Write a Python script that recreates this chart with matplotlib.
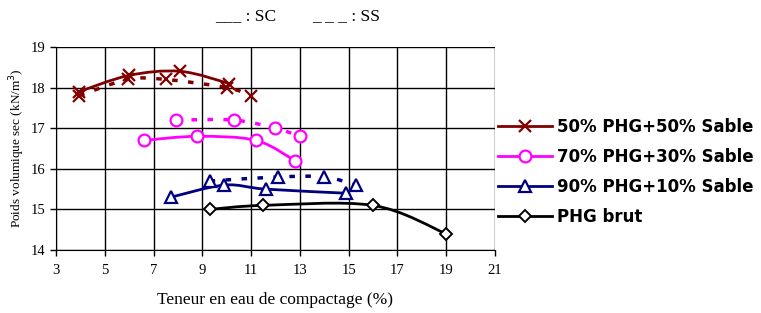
import numpy as np
import matplotlib
matplotlib.use("Agg")
from matplotlib import pyplot as plt
from matplotlib.path import Path
from matplotlib.patches import PathPatch
from matplotlib.lines import Line2D

# =========== DONNEES ===========
# SC = trait plein, SS = pointilles
w_50_sc = [3.95, 6.0, 8.1, 10.1]
g_50_sc = [17.9, 18.3, 18.4, 18.1]
w_50_ss = [3.95, 5.95, 7.5, 10.0, 11.0]
g_50_ss = [17.8, 18.2, 18.2, 18.0, 17.8]

w_70_sc = [6.6, 8.8, 11.2, 12.8]
g_70_sc = [16.7, 16.8, 16.7, 16.2]
w_70_ss = [7.9, 10.3, 12.0, 13.0]
g_70_ss = [17.2, 17.2, 17.0, 16.8]

w_90_sc = [7.7, 9.9, 11.6, 14.9]
g_90_sc = [15.3, 15.6, 15.5, 15.4]
w_90_ss = [9.3, 12.1, 14.0, 15.3]
g_90_ss = [15.7, 15.8, 15.8, 15.6]

w_brut = [9.3, 11.5, 16.0, 19.0]
g_brut = [15.0, 15.1, 15.1, 14.4]

labels = ["50% PHG+50% Sable", "70% PHG+30% Sable", "90% PHG+10% Sable", "PHG brut"]
colors = ["#800000", "#FF00FF", "#000080", "#000000"]
markers = ["x", "o", "^", "D"]
msizes = [9, 8.5, 8.5, 6]
xticks = list(range(3, 22, 2))
yticks = list(range(14, 20))

# =====================================================


def smooth_path(x, y):
    # courbe lissee facon tableur (Catmull-Rom -> Bezier)
    P = np.column_stack([x, y]).astype(float)
    n = len(P)
    verts = [P[0]]
    codes = [Path.MOVETO]
    for i in range(n - 1):
        p0 = P[i - 1] if i > 0 else P[i]
        p1 = P[i]
        p2 = P[i + 1]
        p3 = P[i + 2] if i + 2 < n else P[i + 1]
        c1 = p1 + (p2 - p0) / 6.0
        c2 = p2 - (p3 - p1) / 6.0
        verts += [c1, c2, p2]
        codes += [Path.CURVE4] * 3
    return Path(verts, codes)


def mstyle(k):
    c = colors[k]
    return dict(marker=markers[k], ms=msizes[k], mec=c,
                mfc=c if markers[k] == "x" else "white",
                mew=1.6 if markers[k] != "D" else 1.4)


fig = plt.figure(figsize=(7.61, 3.13), dpi=100)
ax = fig.add_axes([0.0736, 0.201, 0.5768, 0.649])

series = [
    (w_50_sc, g_50_sc, w_50_ss, g_50_ss),
    (w_70_sc, g_70_sc, w_70_ss, g_70_ss),
    (w_90_sc, g_90_sc, w_90_ss, g_90_ss),
    (w_brut, g_brut, None, None),
]

handles = []
for k, (xs, ys, xd, yd) in enumerate(series):
    c = colors[k]
    ax.add_patch(PathPatch(smooth_path(xs, ys), fill=False, edgecolor=c, lw=2, zorder=3))
    ax.plot(xs, ys, ls="none", zorder=4, **mstyle(k))
    if xd is not None:
        ax.add_patch(PathPatch(smooth_path(xd, yd), fill=False, edgecolor=c, lw=2.5,
                               linestyle=(0, (1.6, 3)), zorder=3))
        ax.plot(xd, yd, ls="none", zorder=4, **mstyle(k))
    handles.append(Line2D([], [], color=c, lw=2, **mstyle(k)))

ax.set_xlim(3, 21)
ax.set_ylim(14, 19)
ax.set_xticks(xticks)
ax.set_yticks(yticks)
ax.grid(True, color="black", lw=1)
ax.set_axisbelow(True)
for s in ["top", "right"]:
    ax.spines[s].set_visible(False)
ax.tick_params(direction="out", length=4, width=1, labelsize=10.5)
ax.tick_params(axis="x", pad=6)
for lab in ax.get_xticklabels() + ax.get_yticklabels():
    lab.set_fontfamily("Liberation Serif")

ax.set_ylabel("Poids volumique sec (kN/m$^3$)", fontsize=9.5, family="Liberation Serif")
ax.yaxis.set_label_coords(-0.066, 0.5)
ax.set_xlabel("Teneur en eau de compactage (%)", fontsize=12.5, family="Liberation Serif", labelpad=11)

fig.text(0.283, 0.935, "___ : SC", fontsize=12.5, family="Liberation Serif")
fig.text(0.41, 0.935, "_ _ _ : SS", fontsize=12.5, family="Liberation Serif")

leg = fig.legend(handles, labels, loc="center left", bbox_to_anchor=(0.654, 0.452), frameon=False,
                 prop={"family": "DejaVu Sans", "weight": "bold", "size": 12},
                 handlelength=3.25, handletextpad=0.3, labelspacing=0.72,
                 borderpad=0, borderaxespad=0)

fig.savefig("out.png", dpi=100)
